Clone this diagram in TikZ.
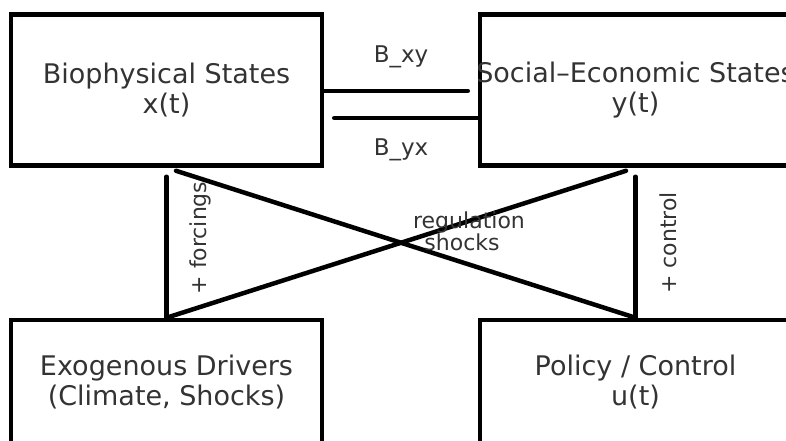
\documentclass[tikz,border=0pt]{standalone}
\usepackage{fontspec}
\setmainfont{DejaVu Sans}
\begin{document}
\begin{tikzpicture}[
      x=1pt, y=-1pt,
      state/.style={rectangle, draw=black, line width=4.5pt, minimum width=311pt,
        minimum height=151pt, inner sep=0pt, align=center, text=black!80,
        font=\fontsize{27}{30}\selectfont},
      lowstate/.style={state, minimum height=124pt},
      link/.style={draw=black, line width=4.5pt, line cap=round, shorten >=10pt},
      lbl/.style={text=black!80, inner sep=0pt, font=\fontsize{22}{24}\selectfont}
  ]
  \useasboundingbox (0,0) rectangle (786,441);
  \clip (0,0) rectangle (786,441);

  % the four state boxes (long title may run past the frame)
  \node[state] (bio) at (166.5,90) {Biophysical States\\x(t)};
  \node[state] (socio) at (635.5,90) {\makebox[0pt]{Social–Economic States}\\y(t)};
  \node[lowstate] (drivers) at (166.5,382) {Exogenous Drivers\\(Climate, Shocks)};
  \node[lowstate] (policy) at (635.5,382) {Policy / Control\\u(t)};

  % coupling between the two states
  \draw[link] ([yshift=-1pt]bio.east) -- ([yshift=-1pt]socio.west);
  \draw[link] ([yshift=-28pt]socio.west) -- ([yshift=-28pt]bio.east);
  \node[lbl, font=\fontsize{23}{25}\selectfont] (bxy) at (401,57) {B\_xy};
  \node[lbl, font=\fontsize{23}{25}\selectfont] (byx) at (401,150) {B\_yx};

  % inputs from below
  \draw[link, shorten >=0pt, shorten <=9pt] (bio.south) -- (drivers.north);
  \draw[link, shorten >=0pt, shorten <=9pt] (socio.south) -- (policy.north);
  \draw[link, shorten >=0pt, shorten <=10pt] (bio.south) -- (policy.north);
  \draw[link, shorten >=0pt, shorten <=10pt] (socio.south) -- (drivers.north);

  \node[lbl, rotate=90] (forcings) at (200,238) {+ forcings};
  \node[lbl, rotate=90] (control) at (668,243) {+ control};
  \node[lbl] (regulation) at (469,222) {regulation};
  \node[lbl] (shocks) at (462,242) {shocks};

  \end{tikzpicture}
\end{document}
